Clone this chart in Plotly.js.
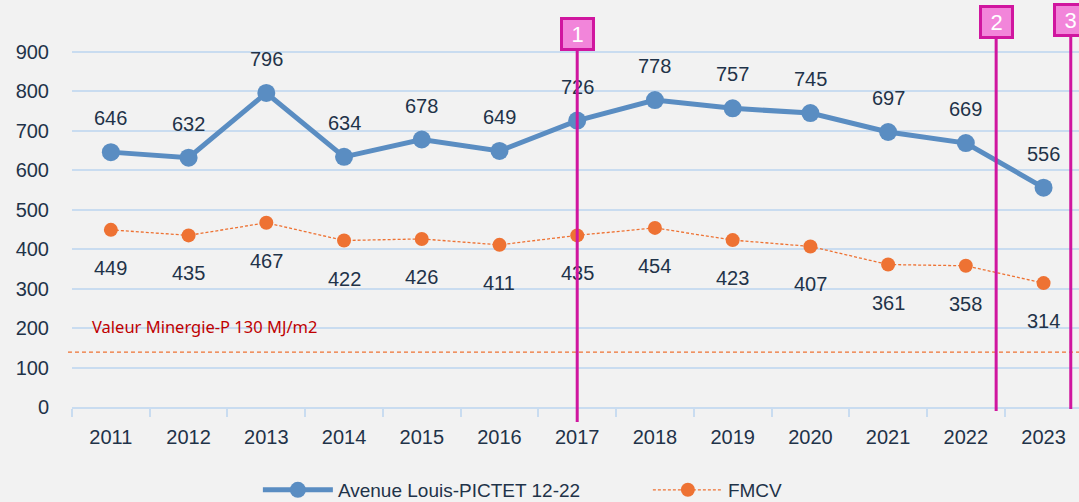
<!DOCTYPE html>
<html><head><meta charset="utf-8">
<script src="https://cdn.plot.ly/plotly-3.0.1.min.js"></script>
<style>html,body{margin:0;padding:0;background:#f2f2f2;}</style>
</head><body><div id="chart" style="width:1079px;height:502px;"></div>
<script>
const years = ['2011','2012','2013','2014','2015','2016','2017','2018','2019','2020','2021','2022','2023'];
const pictet = [646,632,796,634,678,649,726,778,757,745,697,669,556];
const fmcv = [449,435,467,422,426,411,435,454,423,407,361,358,314];
const minergieValue = 139;
const minergieLabel = 'Valeur Minergie-P 130 MJ/m2';
const markerLabels = ['1','2','3'];
const markerPos = [6, 11.39, 12.35];
const markerTop = [945, 977, 982];
const markerBottom = [-38, -10, -5];
const yTicks = [0,100,200,300,400,500,600,700,800,900];

const txt = '#1f3349';
const font = 'Liberation Sans, Arial, sans-serif';
const blue = '#5a8dc2';
const orange = '#ee7233';
const magenta = '#d0169f';

const traces = [
  {x: years, y: pictet, name: 'Avenue Louis-PICTET 12-22', mode: 'lines+markers',
   line: {color: blue, width: 5}, marker: {color: blue, size: 18}},
  {x: years, y: fmcv, name: 'FMCV', mode: 'lines+markers',
   line: {color: orange, width: 1.3, dash: '3px,2px'}, marker: {color: orange, size: 14}}
];

const annotations = [];
years.forEach((yr, i) => {
  annotations.push({x: i, y: pictet[i], xref: 'x', yref: 'y', text: String(pictet[i]), showarrow: false,
    yshift: 34, font: {size: 20, color: txt, family: font}});
  annotations.push({x: i, y: fmcv[i], xref: 'x', yref: 'y', text: String(fmcv[i]), showarrow: false,
    yshift: -38, font: {size: 20, color: txt, family: font}});
});
markerLabels.forEach((lab, i) => {
  annotations.push({x: markerPos[i], y: markerBottom[i], ax: markerPos[i], ay: markerTop[i],
    xref: 'x', yref: 'y', axref: 'x', ayref: 'y', text: lab, showarrow: true, arrowhead: 0,
    arrowwidth: 3, arrowcolor: magenta, standoff: 0, startstandoff: 0,
    bgcolor: '#f285da', bordercolor: magenta, borderwidth: 3, width: 27, height: 26,
    font: {size: 22, color: '#ffffff', family: font}});
});
annotations.push({x: 0.018, xref: 'paper', y: 205, yref: 'y', xanchor: 'left', yanchor: 'middle',
  text: minergieLabel, showarrow: false, font: {size: 16.5, color: '#c00000', family: 'Noto Sans, sans-serif'}});

const layout = {
  width: 1079, height: 502,
  paper_bgcolor: '#f2f2f2', plot_bgcolor: '#f2f2f2',
  margin: {l: 72, r: 0, t: 0, b: 95, autoexpand: false},
  showlegend: true,
  legend: {orientation: 'h', xref: 'container', yref: 'container', x: 0.239, xanchor: 'left',
    y: 0.024, yanchor: 'middle',
    itemwidth: 70, entrywidth: 305, entrywidthmode: 'pixels',
    font: {size: 19, color: txt, family: font}, bgcolor: 'rgba(0,0,0,0)'},
  xaxis: {type: 'category', range: [-0.5, 12.456], tickson: 'boundaries', ticks: 'outside',
    ticklen: 8, tickwidth: 2, tickcolor: '#c9dcf0', showgrid: false, showline: true,
    linecolor: '#c9dcf0', linewidth: 2, ticklabelstandoff: 11,
    tickfont: {size: 20, color: txt, family: font}, fixedrange: true},
  yaxis: {range: [0, 1031.6], tickvals: yTicks, showgrid: true, gridcolor: '#c9dcf0', gridwidth: 2,
    zeroline: false, showline: false, ticks: '', ticklabelstandoff: 22,
    tickfont: {size: 20, color: txt, family: font}},
  shapes: [{type: 'line', xref: 'paper', x0: -0.004, x1: 1, yref: 'y', y0: minergieValue, y1: minergieValue,
    line: {color: orange, width: 1.2, dash: '4px,3px'}}],
  annotations: annotations
};
Plotly.newPlot('chart', traces, layout, {displayModeBar: false, staticPlot: true});
</script></body></html>
